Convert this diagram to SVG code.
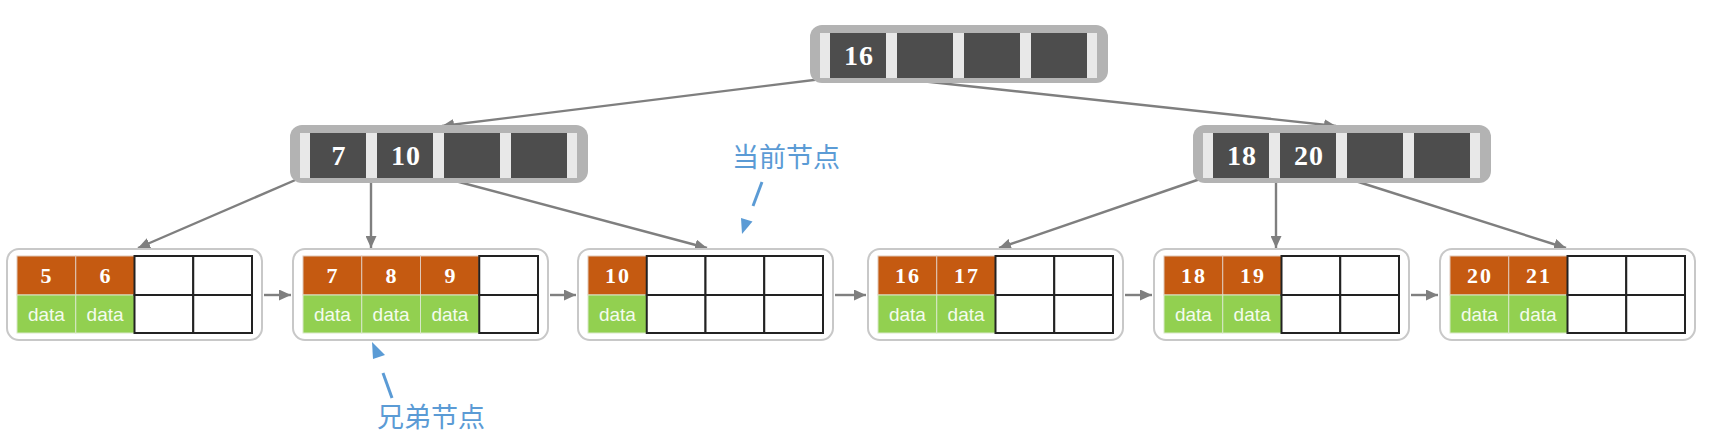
<svg xmlns="http://www.w3.org/2000/svg" width="1732" height="448" viewBox="0 0 1732 448">
<style>
.outer{fill:#b3b3b3;}
.strip{fill:#e8e8e8;}
.cell{fill:#4d4d4d;}
.ik{font-family:"Liberation Serif",serif;font-weight:bold;font-size:28px;fill:#ffffff;text-anchor:middle;letter-spacing:1px;}
.leaf{fill:#ffffff;stroke:#c8c8c8;stroke-width:2;}
.ok{fill:#c55a11;stroke:#e0c8b8;stroke-width:1;}
.gd{fill:#92d050;stroke:#d8e8c8;stroke-width:1;}
.em{fill:#ffffff;stroke:#222222;stroke-width:2;}
.lk{font-family:"Liberation Serif",serif;font-weight:bold;font-size:22px;fill:#ffffff;text-anchor:middle;letter-spacing:2px;}
.dt{font-family:"Liberation Sans",Arial,sans-serif;font-size:19px;fill:#f4fbee;text-anchor:middle;}
.conn{stroke:#7f7f7f;stroke-width:2.4;fill:none;marker-end:url(#arr);}
.note{font-family:"Noto Sans CJK SC","Noto Sans",sans-serif;font-size:27px;fill:#5b9bd5;}
.nl{stroke:#5b9bd5;stroke-width:3;}
.nh{fill:#5b9bd5;}
</style>
<defs>
<marker id="arr" markerUnits="userSpaceOnUse" markerWidth="12" markerHeight="11" refX="12" refY="5.5" orient="auto">
<path d="M0,0 L12,5.5 L0,11 z" fill="#7f7f7f"/>
</marker>
</defs>
<rect width="1732" height="448" fill="#ffffff"/>

<g id="connectors">
<line class="conn" x1="830" y1="78" x2="442" y2="126"/>
<line class="conn" x1="893" y1="78" x2="1336" y2="126"/>
<line class="conn" x1="300" y1="178" x2="138" y2="248"/>
<line class="conn" x1="371" y1="178" x2="371" y2="248"/>
<line class="conn" x1="444" y1="178" x2="707" y2="248"/>
<line class="conn" x1="1203" y1="178" x2="999" y2="248"/>
<line class="conn" x1="1276" y1="178" x2="1276" y2="248"/>
<line class="conn" x1="1346" y1="178" x2="1566" y2="248"/>
<line class="conn" x1="264" y1="295" x2="291" y2="295"/>
<line class="conn" x1="550" y1="295" x2="576" y2="295"/>
<line class="conn" x1="835" y1="295" x2="866" y2="295"/>
<line class="conn" x1="1125" y1="295" x2="1152" y2="295"/>
<line class="conn" x1="1411" y1="295" x2="1438" y2="295"/>
</g>

<g id="root">
<rect class="outer" x="810" y="25" width="298" height="58" rx="12"/>
<rect class="strip" x="820" y="33" width="277" height="45"/>
<rect class="cell" x="830" y="33" width="56" height="45"/>
<rect class="cell" x="897" y="33" width="56" height="45"/>
<rect class="cell" x="964" y="33" width="56" height="45"/>
<rect class="cell" x="1031" y="33" width="56" height="45"/>
<text class="ik" x="859" y="65">16</text>
</g>

<g id="inner-left">
<rect class="outer" x="290" y="125" width="298" height="58" rx="12"/>
<rect class="strip" x="300" y="133" width="277" height="45"/>
<rect class="cell" x="310" y="133" width="56" height="45"/>
<rect class="cell" x="377" y="133" width="56" height="45"/>
<rect class="cell" x="444" y="133" width="56" height="45"/>
<rect class="cell" x="511" y="133" width="56" height="45"/>
<text class="ik" x="339" y="165">7</text>
<text class="ik" x="406" y="165">10</text>
</g>

<g id="inner-right">
<rect class="outer" x="1193" y="125" width="298" height="58" rx="12"/>
<rect class="strip" x="1203" y="133" width="277" height="45"/>
<rect class="cell" x="1213" y="133" width="56" height="45"/>
<rect class="cell" x="1280" y="133" width="56" height="45"/>
<rect class="cell" x="1347" y="133" width="56" height="45"/>
<rect class="cell" x="1414" y="133" width="56" height="45"/>
<text class="ik" x="1242" y="165">18</text>
<text class="ik" x="1309" y="165">20</text>
</g>

<g id="leaf1">
<rect class="leaf" x="7" y="249" width="255" height="91" rx="12"/>
<rect class="ok" x="17" y="256" width="58.75" height="39"/>
<rect class="ok" x="75.75" y="256" width="58.75" height="39"/>
<rect class="gd" x="17" y="295" width="58.75" height="38"/>
<rect class="gd" x="75.75" y="295" width="58.75" height="38"/>
<rect class="em" x="134.5" y="256" width="58.75" height="39"/>
<rect class="em" x="193.25" y="256" width="58.75" height="39"/>
<rect class="em" x="134.5" y="295" width="58.75" height="38"/>
<rect class="em" x="193.25" y="295" width="58.75" height="38"/>
<text class="lk" x="47" y="283">5</text>
<text class="lk" x="106" y="283">6</text>
<text class="dt" x="46.4" y="321">data</text>
<text class="dt" x="105.1" y="321">data</text>
</g>

<g id="leaf2">
<rect class="leaf" x="293" y="249" width="255" height="91" rx="12"/>
<rect class="ok" x="303" y="256" width="58.75" height="39"/>
<rect class="ok" x="361.75" y="256" width="58.75" height="39"/>
<rect class="ok" x="420.5" y="256" width="58.75" height="39"/>
<rect class="gd" x="303" y="295" width="58.75" height="38"/>
<rect class="gd" x="361.75" y="295" width="58.75" height="38"/>
<rect class="gd" x="420.5" y="295" width="58.75" height="38"/>
<rect class="em" x="479.25" y="256" width="58.75" height="39"/>
<rect class="em" x="479.25" y="295" width="58.75" height="38"/>
<text class="lk" x="333" y="283">7</text>
<text class="lk" x="392" y="283">8</text>
<text class="lk" x="451" y="283">9</text>
<text class="dt" x="332.4" y="321">data</text>
<text class="dt" x="391.1" y="321">data</text>
<text class="dt" x="449.9" y="321">data</text>
</g>

<g id="leaf3">
<rect class="leaf" x="578" y="249" width="255" height="91" rx="12"/>
<rect class="ok" x="588" y="256" width="58.75" height="39"/>
<rect class="gd" x="588" y="295" width="58.75" height="38"/>
<rect class="em" x="646.75" y="256" width="58.75" height="39"/>
<rect class="em" x="705.5" y="256" width="58.75" height="39"/>
<rect class="em" x="764.25" y="256" width="58.75" height="39"/>
<rect class="em" x="646.75" y="295" width="58.75" height="38"/>
<rect class="em" x="705.5" y="295" width="58.75" height="38"/>
<rect class="em" x="764.25" y="295" width="58.75" height="38"/>
<text class="lk" x="618" y="283">10</text>
<text class="dt" x="617.4" y="321">data</text>
</g>

<g id="leaf4">
<rect class="leaf" x="868" y="249" width="255" height="91" rx="12"/>
<rect class="ok" x="878" y="256" width="58.75" height="39"/>
<rect class="ok" x="936.75" y="256" width="58.75" height="39"/>
<rect class="gd" x="878" y="295" width="58.75" height="38"/>
<rect class="gd" x="936.75" y="295" width="58.75" height="38"/>
<rect class="em" x="995.5" y="256" width="58.75" height="39"/>
<rect class="em" x="1054.25" y="256" width="58.75" height="39"/>
<rect class="em" x="995.5" y="295" width="58.75" height="38"/>
<rect class="em" x="1054.25" y="295" width="58.75" height="38"/>
<text class="lk" x="908" y="283">16</text>
<text class="lk" x="967" y="283">17</text>
<text class="dt" x="907.4" y="321">data</text>
<text class="dt" x="966.1" y="321">data</text>
</g>

<g id="leaf5">
<rect class="leaf" x="1154" y="249" width="255" height="91" rx="12"/>
<rect class="ok" x="1164" y="256" width="58.75" height="39"/>
<rect class="ok" x="1222.75" y="256" width="58.75" height="39"/>
<rect class="gd" x="1164" y="295" width="58.75" height="38"/>
<rect class="gd" x="1222.75" y="295" width="58.75" height="38"/>
<rect class="em" x="1281.5" y="256" width="58.75" height="39"/>
<rect class="em" x="1340.25" y="256" width="58.75" height="39"/>
<rect class="em" x="1281.5" y="295" width="58.75" height="38"/>
<rect class="em" x="1340.25" y="295" width="58.75" height="38"/>
<text class="lk" x="1194" y="283">18</text>
<text class="lk" x="1253" y="283">19</text>
<text class="dt" x="1193.4" y="321">data</text>
<text class="dt" x="1252.1" y="321">data</text>
</g>

<g id="leaf6">
<rect class="leaf" x="1440" y="249" width="255" height="91" rx="12"/>
<rect class="ok" x="1450" y="256" width="58.75" height="39"/>
<rect class="ok" x="1508.75" y="256" width="58.75" height="39"/>
<rect class="gd" x="1450" y="295" width="58.75" height="38"/>
<rect class="gd" x="1508.75" y="295" width="58.75" height="38"/>
<rect class="em" x="1567.5" y="256" width="58.75" height="39"/>
<rect class="em" x="1626.25" y="256" width="58.75" height="39"/>
<rect class="em" x="1567.5" y="295" width="58.75" height="38"/>
<rect class="em" x="1626.25" y="295" width="58.75" height="38"/>
<text class="lk" x="1480" y="283">20</text>
<text class="lk" x="1539" y="283">21</text>
<text class="dt" x="1479.4" y="321">data</text>
<text class="dt" x="1538.1" y="321">data</text>
</g>

<g id="note-current">
<text class="note" x="732" y="167">当前节点</text>
<line class="nl" x1="762" y1="182" x2="753" y2="206"/>
<polygon class="nh" points="742,234 752.5,221.5 741,218"/>
</g>

<g id="note-sibling">
<text class="note" x="377" y="427">兄弟节点</text>
<line class="nl" x1="392" y1="398" x2="383" y2="373"/>
<polygon class="nh" points="372,342 373,359 385,355"/>
</g>
</svg>
